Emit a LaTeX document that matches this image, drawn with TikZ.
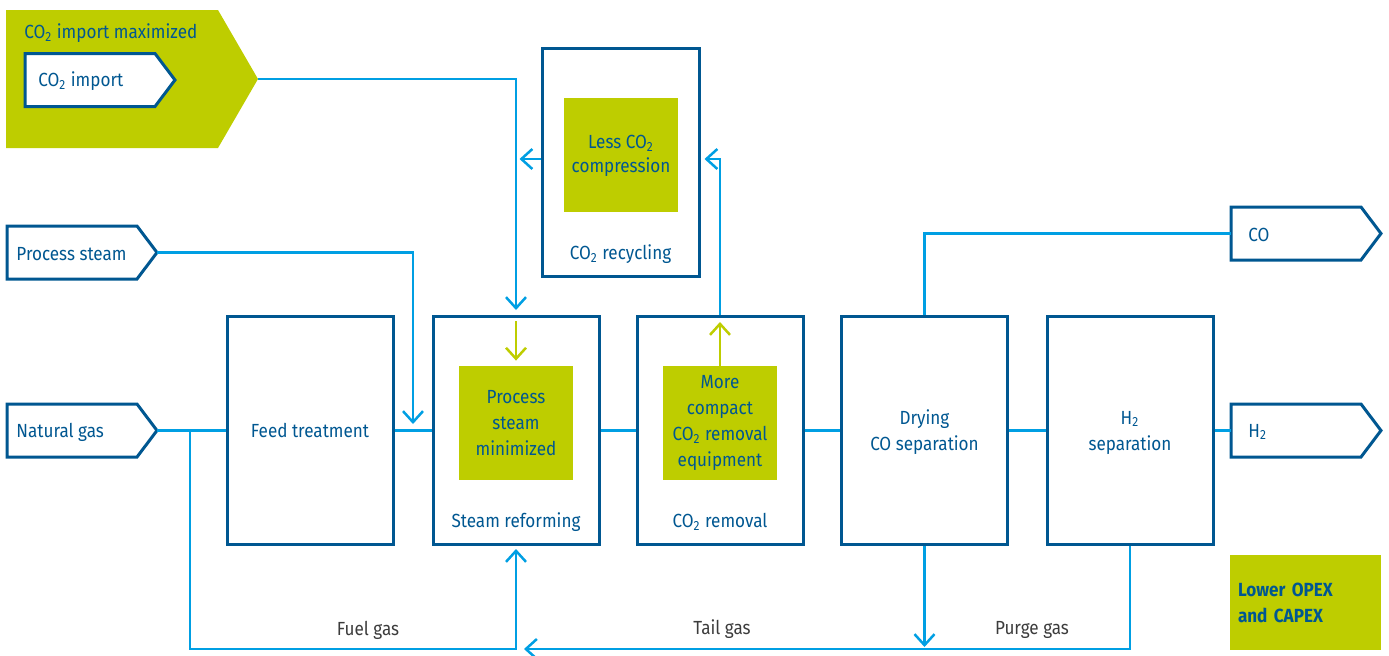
\documentclass[tikz,border=0pt]{standalone}
\usepackage{fontspec}
\setmainfont{Fira Sans}[FakeStretch=0.9]
\usepackage{tikz}
\usetikzlibrary{arrows.meta}
\usetikzlibrary{positioning}

\definecolor{darkblue}{RGB}{0,87,145}
\definecolor{lightblue}{RGB}{0,159,227}
\definecolor{limegreen}{RGB}{190,205,0}
\definecolor{labelgray}{RGB}{60,60,60}

\newcommand{\streamtag}[5]{%
  \draw[tagline] (#2,#3-26.5) -- ++(130,0) -- ++(20,26.5) -- ++(-20,26.5) -- ++(-130,0) -- cycle;
  \node[tagtext] (#1) at (#2+#4,#3) {#5};
  \coordinate (#1-in) at (#2,#3);
  \coordinate (#1-tip) at (#2+150,#3);
}

\begin{document}
\begin{tikzpicture}[x=0.5pt,y=-0.5pt,
  font=\fontsize{9.5}{13}\selectfont,
  tagline/.style={draw=darkblue,line width=1.5pt,fill=white},
  tagtext/.style={anchor=west,inner sep=0pt,text=darkblue,yshift=-0.75pt},
  unit/.style={draw=darkblue,line width=1.5pt,minimum width=83pt,minimum height=114pt,inner sep=0pt,text=darkblue,align=center},
  unitlab/.style={text=darkblue,align=center,yshift=-1pt},
  gain/.style={fill=limegreen,minimum width=57pt,minimum height=57pt,inner sep=0pt,text=darkblue,align=center},
  pipe/.style={draw=lightblue,line width=1.25pt},
  flow/.style={pipe,-{Straight Barb[length=5.5pt,width=10pt]}},
  boost/.style={draw=limegreen,line width=1.25pt,-{Straight Barb[length=5.5pt,width=10pt]}},
  stream/.style={text=labelgray,inner sep=0pt,yshift=-0.75pt}]
  \useasboundingbox (0,0) rectangle (1389,655);

  \fill[limegreen] (6,10) -- (218,10) -- (258,79) -- (218,148) -- (6,148) -- cycle;
  \node[tagtext] (importmax) at (24,32) {CO\textsubscript{2} import maximized};
  \coordinate (importmax-tip) at (258,79);
  \streamtag{import}{25}{80}{13}{CO\textsubscript{2} import}
  \streamtag{steam}{7}{252.5}{9}{Process steam}
  \streamtag{gas}{7}{430.5}{9}{Natural gas}
  \streamtag{co}{1231}{233.5}{17}{CO}
  \streamtag{hyd}{1231}{430.5}{17}{H\textsubscript{2}}

  \node[unit] (feed) at (310,430.5) {Feed treatment};
  \node[unit] (reform) at (516,430.5) {};
  \node[unit] (removal) at (720,430.5) {};
  \node[unit] (drying) at (924.5,430.5) {};
  \node[unit] (hsep) at (1130,430.5) {};
  \node[unit,minimum width=78.5pt] (recycle) at (620.5,162) {};

  \node[unitlab] (dryinglab) at (924.5,430.5) {Drying\\CO separation};
  \node[unitlab] (hseplab) at (1130,430.5) {H\textsubscript{2}\\separation};
  \node[unitlab] (reformlab) at (516,520) {Steam reforming};
  \node[unitlab] (removallab) at (720,520) {CO\textsubscript{2} removal};
  \node[unitlab] (recyclelab) at (620.5,252) {CO\textsubscript{2} recycling};

  \node[gain] (steamless) at (516,423) {Process\\steam\\minimized};
  \node[gain] (compact) at (720,423) {More\\compact\\CO\textsubscript{2} removal\\equipment};
  \node[gain] (compress) at (621,155) {\raisebox{-2pt}{\begin{tabular}{@{}c@{}}Less CO\textsubscript{2}\\[-1pt]compression\end{tabular}}};
  \node[gain,minimum width=75.5pt,minimum height=47.5pt,text width=67.5pt,align=left,
    font=\fontsize{9.5}{13}\selectfont\bfseries] (opex) at (1305.5,602.5) {Lower OPEX\\and CAPEX};

  \draw[pipe] (gas-tip) -- (feed.west);
  \draw[pipe] (feed.east) -- (reform.west);
  \draw[pipe] (reform.east) -- (removal.west);
  \draw[pipe] (removal.east) -- (drying.west);
  \draw[pipe] (drying.east) -- (hsep.west);
  \draw[pipe] (hsep.east) -- (hyd-in);
  \draw[pipe] (drying.north) |- (co-in);

  \coordinate (steamdrop) at (413,424);
  \coordinate (importdrop) at (516,310);
  \draw[flow] (steam-tip) -| (steamdrop);
  \draw[flow] (importmax-tip) -| (importdrop);
  \draw[boost] ([yshift=-3pt]reform.north) -- ([yshift=2.5pt]steamless.north);
  \draw[boost] (compact.north) -- ([yshift=-3.5pt]removal.north);
  \draw[flow] ([yshift=1.5pt]recycle.west) -- ++(-21,0);
  \draw[flow] (removal.north) |- ([xshift=2pt,yshift=1.5pt]recycle.east);

  \coordinate (fueltap) at (190,430.5);
  \coordinate (fuelturn) at (516,649);
  \coordinate (tailjoin) at (524,649);
  \draw[flow] (fueltap) |- (fuelturn) -- ([yshift=-1.5pt]reform.south);
  \draw[flow] (hsep.south) |- (tailjoin);
  \draw[flow] (drying.south) -- ++(0,101);

  \node[stream] (fuellab) at (368,629) {Fuel gas};
  \node[stream] (taillab) at (722,628) {Tail gas};
  \node[stream] (purgelab) at (1032,628) {Purge gas};
\end{tikzpicture}
\end{document}
